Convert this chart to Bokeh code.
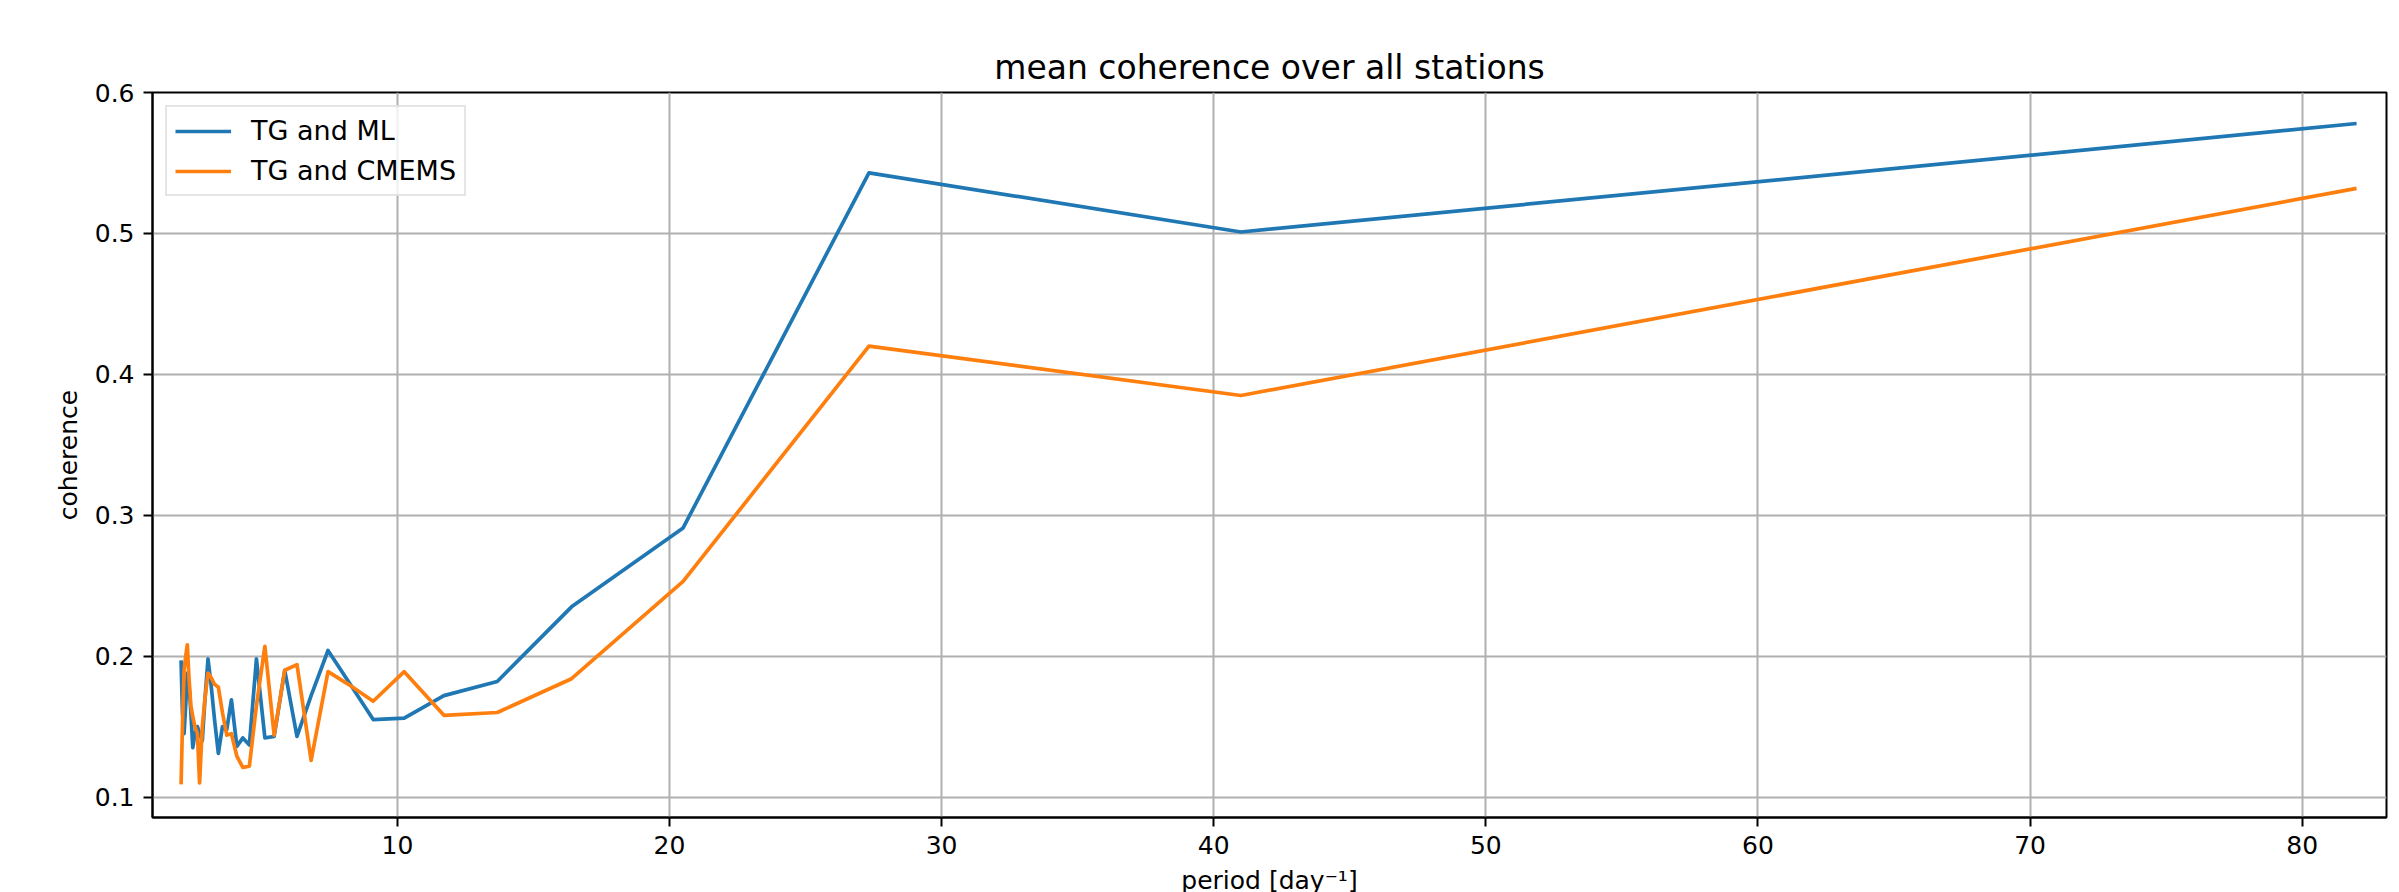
from bokeh.plotting import figure
from bokeh.models import Range1d, FixedTicker
from bokeh.embed import file_html
from bokeh.resources import INLINE

# Data
period = [2.05, 2.10, 2.16, 2.22, 2.28, 2.34, 2.41, 2.48, 2.56, 2.65,
          2.73, 2.83, 2.93, 3.04, 3.15, 3.28, 3.42, 3.57, 3.73, 3.90,
          4.10, 4.32, 4.56, 4.82, 5.13, 5.47, 5.86, 6.31, 6.83, 7.45,
          8.20, 9.11, 10.25, 11.71, 13.67, 16.40, 20.50, 27.33, 41.00, 82.00]

coh_tg_ml = [0.197, 0.160, 0.145, 0.165, 0.188, 0.180, 0.160, 0.135, 0.145, 0.150,
             0.145, 0.140, 0.170, 0.198, 0.180, 0.155, 0.131, 0.150, 0.148, 0.169,
             0.136, 0.142, 0.137, 0.198, 0.142, 0.143, 0.190, 0.143, 0.172, 0.204,
             0.182, 0.155, 0.156, 0.172, 0.182, 0.235, 0.291, 0.543, 0.501, 0.578]

coh_tg_cmems = [0.109, 0.150, 0.190, 0.200, 0.208, 0.185, 0.165, 0.157, 0.150, 0.145,
                0.110, 0.150, 0.170, 0.188, 0.185, 0.180, 0.178, 0.160, 0.144, 0.145,
                0.129, 0.121, 0.122, 0.165, 0.207, 0.144, 0.190, 0.194, 0.126, 0.189,
                0.180, 0.168, 0.189, 0.158, 0.160, 0.184, 0.253, 0.420, 0.385, 0.532]

series_labels = ["TG and ML", "TG and CMEMS"]
series_colors = ["#1f77b4", "#ff7f0e"]
x_ticks = [10, 20, 30, 40, 50, 60, 70, 80]
y_ticks = [0.1, 0.2, 0.3, 0.4, 0.5, 0.6]

FONT = "DejaVu Sans"

p = figure(
    frame_width=2234, frame_height=725,
    min_border_left=152, min_border_right=5, min_border_top=92, min_border_bottom=67,
    x_range=Range1d(1.0, 83.1), y_range=Range1d(0.0855, 0.6),
    output_backend="svg", toolbar_location=None,
    title="mean coherence over all stations",
)

p.title.align = "center"
p.title.text_font = FONT
p.title.text_font_style = "normal"
p.title.text_font_size = "33px"
p.title.text_color = "black"
p.title.standoff = 12

for ys, lab, col in [(coh_tg_ml, series_labels[0], series_colors[0]),
                     (coh_tg_cmems, series_labels[1], series_colors[1])]:
    p.line(period, ys, line_color=col, line_width=3.7, line_join="round",
           legend_label=lab)

p.xaxis.ticker = FixedTicker(ticks=x_ticks)
p.yaxis.ticker = FixedTicker(ticks=y_ticks)
p.xaxis.axis_label = "period [day\u207b\u00b9]"
p.yaxis.axis_label = "coherence"

for ax in (p.xaxis[0], p.yaxis[0]):
    ax.major_label_text_font = FONT
    ax.major_label_text_font_size = "25px"
    ax.major_label_text_color = "black"
    ax.axis_label_text_font = FONT
    ax.axis_label_text_font_size = "25px"
    ax.axis_label_text_font_style = "normal"
    ax.axis_label_text_color = "black"
    ax.axis_line_color = "black"
    ax.axis_line_width = 2
    ax.major_tick_line_color = "black"
    ax.major_tick_line_width = 2
    ax.major_tick_out = 9
    ax.major_tick_in = 0
    ax.minor_tick_line_color = None
    ax.major_label_standoff = 9
    ax.axis_label_standoff = 9

p.outline_line_color = "black"
p.outline_line_width = 2
p.outline_line_alpha = 1.0

p.xgrid.grid_line_color = "#b0b0b0"
p.ygrid.grid_line_color = "#b0b0b0"
p.xgrid.grid_line_width = 2
p.ygrid.grid_line_width = 2

leg = p.legend[0]
leg.location = "top_left"
leg.margin = 13
leg.padding = 8
leg.spacing = 9
leg.glyph_width = 56
leg.glyph_height = 30
leg.label_height = 30
leg.label_standoff = 20
leg.label_text_font = FONT
leg.label_text_font_size = "27px"
leg.label_text_color = "black"
leg.border_line_color = "#cccccc"
leg.border_line_width = 2
leg.background_fill_alpha = 0.8

open("out.html", "w").write(file_html(p, INLINE))
